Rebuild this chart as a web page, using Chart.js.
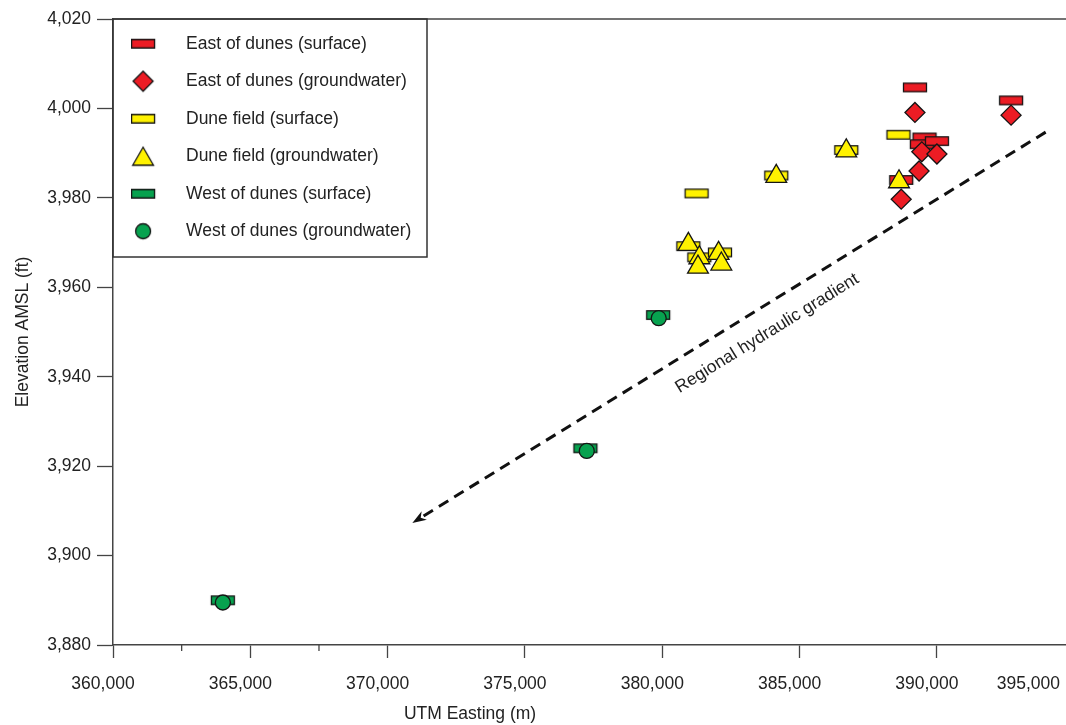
<!DOCTYPE html>
<html>
<head>
<meta charset="utf-8">
<script src="https://cdn.jsdelivr.net/npm/chart.js@4.4.1/dist/chart.umd.min.js"></script>
<style>
  html, body { margin: 0; padding: 0; background: #fff; }
  #wrap { width: 1066px; height: 725px; }
</style>
</head>
<body>
<div id="wrap"><canvas id="c" width="1066" height="725"></canvas></div>
<script>
const FONT = "'Liberation Sans', Arial, Helvetica, sans-serif";
const FONT_SIZE = 17.5;
const TEXT = '#222';
const AXIS = '#444';
const EDGE = '#151515';

// Sample sites: UTM easting (m) and water elevation above mean sea level (ft)
const eastSurfaceX = [389200, 392700, 389550, 389450, 390000, 388700];
const eastSurfaceY = [4004.7, 4001.8, 3993.5, 3992.0, 3992.7, 3984.0];
const eastGroundX  = [389200, 392700, 389450, 390000, 389350, 388700];
const eastGroundY  = [3999.1, 3998.5, 3990.3, 3989.8, 3986.0, 3979.7];

const duneSurfaceX = [381250, 380950, 381350, 382100, 384150, 386700, 388600];
const duneSurfaceY = [3981.0, 3969.2, 3966.7, 3967.8, 3985.0, 3990.7, 3994.1];
const duneGroundX  = [380950, 381350, 381300, 382050, 382150, 384150, 386700, 388620];
const duneGroundY  = [3969.6, 3966.6, 3964.5, 3967.6, 3965.2, 3984.8, 3990.5, 3983.6];

const westSurfaceX = [364000, 377200, 379850];
const westSurfaceY = [3890.0, 3924.0, 3953.8];
const westGroundX  = [364000, 377250, 379870];
const westGroundY  = [3889.5, 3923.4, 3953.1];

const seriesNames = [
  'East of dunes (surface)',
  'East of dunes (groundwater)',
  'Dune field (surface)',
  'Dune field (groundwater)',
  'West of dunes (surface)',
  'West of dunes (groundwater)'
];

// Axis ticks
const xMajorTicks = [360000, 365000, 370000, 375000, 380000, 385000, 390000];
const xMinorTicks = [362500, 367500];
const xEndLabel = '395,000';
const xTitle = 'UTM Easting (m)';
const yTitle = 'Elevation AMSL (ft)';

// Gradient arrow annotation (data coordinates)
const arrowFrom = [393960, 3994.7];
const arrowTo = [370900, 3907.3];
const arrowLabel = 'Regional hydraulic gradient';
const arrowLabelAt = [383820, 3949.7];

const RED = '#ec1c24';
const YELLOW = '#fff200';
const GREEN = '#07a24f';

function toPoints(xs, ys) {
  return xs.map((x, i) => ({ x: x, y: ys[i] }));
}

// Flat rectangle marker used for surface-water sites
function rectMarker(fill) {
  const w = 23, h = 8.5, lw = 1.3;
  const c = document.createElement('canvas');
  c.width = 28; c.height = 14;
  const g = c.getContext('2d');
  g.fillStyle = fill; g.strokeStyle = EDGE; g.lineWidth = lw;
  const x0 = (c.width - w) / 2, y0 = (c.height - h) / 2;
  g.fillRect(x0, y0, w, h);
  g.strokeRect(x0, y0, w, h);
  return c;
}

// Legend swatches: symbol sits left of centre so the label gap matches the box
function legendIcon(kind, fill) {
  const c = document.createElement('canvas');
  c.width = 48; c.height = 26;
  const g = c.getContext('2d');
  const cx = 12, cy = 13;
  g.fillStyle = fill; g.strokeStyle = EDGE; g.lineWidth = 1.3;
  g.beginPath();
  if (kind === 'rect') {
    g.rect(cx - 11.5, cy - 4.25, 23, 8.5);
  } else if (kind === 'diamond') {
    g.moveTo(cx - 10, cy); g.lineTo(cx, cy - 10); g.lineTo(cx + 10, cy); g.lineTo(cx, cy + 10); g.closePath();
  } else if (kind === 'triangle') {
    g.moveTo(cx, cy - 9); g.lineTo(cx + 10.4, cy + 9); g.lineTo(cx - 10.4, cy + 9); g.closePath();
  } else {
    g.arc(cx, cy, 7.5, 0, Math.PI * 2);
  }
  g.fill(); g.stroke();
  return c;
}

const legendIcons = [
  legendIcon('rect', RED), legendIcon('diamond', RED),
  legendIcon('rect', YELLOW), legendIcon('triangle', YELLOW),
  legendIcon('rect', GREEN), legendIcon('circle', GREEN)
];

function series(i, xs, ys, fill, style, radius, order) {
  return {
    label: seriesNames[i],
    data: toPoints(xs, ys),
    backgroundColor: fill,
    borderColor: EDGE,
    borderWidth: 1.3,
    pointStyle: style,
    pointRadius: radius,
    pointHoverRadius: radius,
    order: order
  };
}

const datasets = [
  series(0, eastSurfaceX, eastSurfaceY, RED, rectMarker(RED), 8, 6),
  series(1, eastGroundX, eastGroundY, RED, 'rectRot', 10, 5),
  series(2, duneSurfaceX, duneSurfaceY, YELLOW, rectMarker(YELLOW), 8, 4),
  series(3, duneGroundX, duneGroundY, YELLOW, 'triangle', 12, 3),
  series(4, westSurfaceX, westSurfaceY, GREEN, rectMarker(GREEN), 8, 2),
  series(5, westGroundX, westGroundY, GREEN, 'circle', 7.5, 1)
];

const fmt = (v) => Number(v).toLocaleString('en-US');

// Frame line, minor ticks, legend box, axis title and the gradient arrow
const annotations = {
  id: 'annotations',
  afterDraw(chart) {
    const ctx = chart.ctx;
    const a = chart.chartArea;
    const xs = chart.scales.x, ys = chart.scales.y;
    ctx.save();

    ctx.strokeStyle = AXIS;
    ctx.lineWidth = 1.5;
    ctx.beginPath();
    ctx.moveTo(a.left, a.top);
    ctx.lineTo(a.right, a.top);
    ctx.stroke();

    ctx.lineWidth = 1.3;
    xMinorTicks.forEach((v) => {
      const px = xs.getPixelForValue(v);
      ctx.beginPath();
      ctx.moveTo(px, a.bottom);
      ctx.lineTo(px, a.bottom + 6);
      ctx.stroke();
    });

    ctx.strokeStyle = '#333';
    ctx.lineWidth = 1.5;
    ctx.strokeRect(a.left, a.top, 314, 238);

    ctx.font = FONT_SIZE + 'px ' + FONT;
    ctx.fillStyle = TEXT;
    ctx.textBaseline = 'middle';
    ctx.textAlign = 'right';
    ctx.fillText(xEndLabel, chart.width - 6, a.bottom + 39);
    ctx.textAlign = 'center';
    ctx.fillText(xTitle, 470, 714);

    // dashed gradient arrow
    const p0 = { x: xs.getPixelForValue(arrowFrom[0]), y: ys.getPixelForValue(arrowFrom[1]) };
    const p1 = { x: xs.getPixelForValue(arrowTo[0]), y: ys.getPixelForValue(arrowTo[1]) };
    const ang = Math.atan2(p1.y - p0.y, p1.x - p0.x);
    const cs = Math.cos(ang), sn = Math.sin(ang);
    const head = 14, half = 5;
    ctx.strokeStyle = '#111';
    ctx.fillStyle = '#111';
    ctx.lineWidth = 3;
    ctx.setLineDash([11, 7]);
    ctx.beginPath();
    ctx.moveTo(p0.x, p0.y);
    ctx.lineTo(p1.x - cs * head * 0.8, p1.y - sn * head * 0.8);
    ctx.stroke();
    ctx.setLineDash([]);
    ctx.beginPath();
    ctx.moveTo(p1.x, p1.y);
    ctx.lineTo(p1.x - cs * head - sn * half, p1.y - sn * head + cs * half);
    ctx.lineTo(p1.x - cs * head * 0.7, p1.y - sn * head * 0.7);
    ctx.lineTo(p1.x - cs * head + sn * half, p1.y - sn * head - cs * half);
    ctx.closePath();
    ctx.fill();

    const t = { x: xs.getPixelForValue(arrowLabelAt[0]), y: ys.getPixelForValue(arrowLabelAt[1]) };
    ctx.translate(t.x, t.y);
    ctx.rotate(ang - Math.PI);
    ctx.fillStyle = TEXT;
    ctx.textAlign = 'center';
    ctx.textBaseline = 'middle';
    ctx.fillText(arrowLabel, 0, 0);

    ctx.restore();
  }
};

Chart.defaults.font.family = FONT;
Chart.defaults.font.size = FONT_SIZE;
Chart.defaults.color = TEXT;

new Chart(document.getElementById('c'), {
  type: 'scatter',
  data: { datasets: datasets },
  options: {
    responsive: false,
    animation: false,
    events: [],
    devicePixelRatio: 1,
    layout: { autoPadding: false, padding: { top: 19, right: 0, bottom: 0, left: 0 } },
    scales: {
      x: {
        type: 'linear',
        position: 'bottom',
        min: 360000,
        max: 394700,
        afterBuildTicks: (scale) => { scale.ticks = xMajorTicks.map((v) => ({ value: v })); },
        afterFit: (scale) => { scale.height = 80; scale.paddingLeft = 0; scale.paddingRight = 0; },
        ticks: {
          callback: (v) => fmt(v),
          font: { size: FONT_SIZE },
          color: TEXT,
          padding: 16,
          labelOffset: -10,
          maxRotation: 0,
          autoSkip: false
        },
        grid: { drawOnChartArea: false, drawTicks: true, tickLength: 13, tickColor: AXIS, tickWidth: 1.3 },
        border: { display: true, color: AXIS, width: 1.5 }
      },
      y: {
        type: 'linear',
        min: 3880,
        max: 4020,
        afterFit: (scale) => { scale.width = 113; },
        ticks: { stepSize: 20, callback: (v) => fmt(v), font: { size: FONT_SIZE }, color: TEXT, padding: 6 },
        grid: { drawOnChartArea: false, drawTicks: true, tickLength: 16, tickColor: AXIS, tickWidth: 1.3 },
        border: { display: true, color: AXIS, width: 1.5 },
        title: { display: true, text: yTitle, font: { size: FONT_SIZE }, color: TEXT, padding: { top: 13, bottom: 0 } }
      }
    },
    plugins: {
      tooltip: { enabled: false },
      legend: {
        position: 'chartArea',
        align: 'start',
        title: { display: true, text: '', font: { size: 1, lineHeight: 1 }, padding: { top: 0, bottom: 14 } },
        labels: {
          usePointStyle: true,
          pointStyleWidth: 44.25,
          padding: 20,
          color: TEXT,
          font: { size: FONT_SIZE },
          sort: (a, b) => a.datasetIndex - b.datasetIndex,
          generateLabels: (chart) => {
            const items = Chart.defaults.plugins.legend.labels.generateLabels(chart);
            items.forEach((it) => { it.pointStyle = legendIcons[it.datasetIndex]; it.rotation = 0; it.fontColor = TEXT; });
            return items;
          }
        }
      }
    }
  },
  plugins: [annotations]
});
</script>
</body>
</html>
